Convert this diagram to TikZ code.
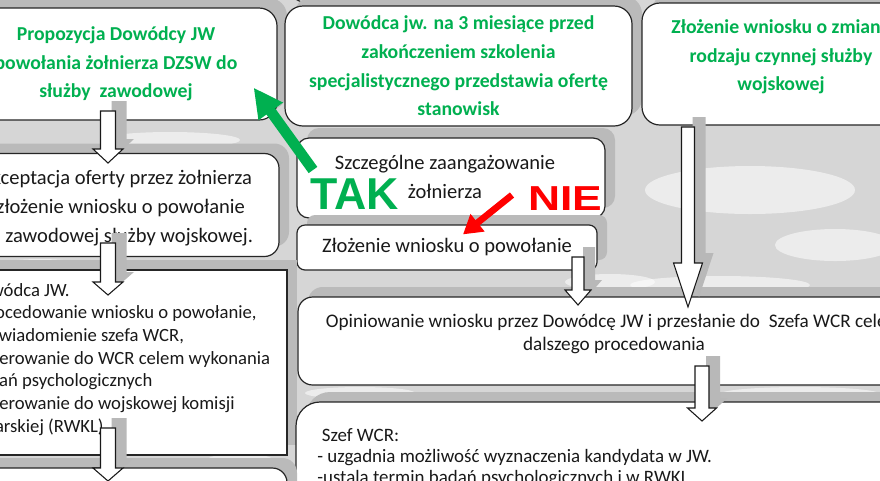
\documentclass[tikz,border=0pt]{standalone}
\usepackage{fontspec}
\setmainfont{Carlito}
\newfontfamily\heavysans{Liberation Sans}
\usepackage{tikz}
\usetikzlibrary{arrows.meta}
\usetikzlibrary{shadows,positioning}
\definecolor{zielony}{RGB}{0,176,80}
\definecolor{czerwony}{RGB}{255,0,0}
% outline of a vertical block arrow, drawn from the middle of its tail
\newcommand{\arrowpath}[4]{++(-#1,0) -- ++(0,#2) -- ++(#1-#3,0) -- ++(#3,#4) -- ++(#3,-#4) -- ++(#1-#3,0) -- ++(0,-#2) -- cycle}
\newcommand{\blockarrow}[5]{%
  \path[ArrowShadow] ([shift={(11,-10)}]#1) \arrowpath{#2}{#3}{#4}{#5};
  \path[BlockArrow] (#1) \arrowpath{#2}{#3}{#4}{#5};}

\begin{document}
\begin{tikzpicture}[
x=0.75pt,y=-0.75pt,
Box/.style={draw=black!85,line width=0.9pt,fill=white,rounded corners=#1,
  drop shadow={shadow xshift=7.5pt,shadow yshift=7.5pt,fill=black!27,opacity=1}},
Box/.default=11pt,
GreenText/.style={text=zielony,align=center,font=\fontsize{14.8}{21.5}\selectfont\bfseries},
BodyText/.style={text=black!90,align=center,font=\fontsize{15.4}{21.6}\selectfont},
ListText/.style={text=black!90,align=left,inner sep=0pt,font=\fontsize{14}{17}\selectfont},
BlockArrow/.style={draw=black!90,line width=0.8pt,fill=white},
ArrowShadow/.style={fill=black!28},
Camo/.style={white,opacity=.55}
]
\useasboundingbox (0,0) rectangle (880,480);
\clip (0,0) rectangle (880,480);

% background
\fill[black!16] (0,0) rectangle (880,480);
\foreach \cx/\cy/\rx/\ry in {750/190/105/24, 835/245/60/16, 720/285/90/9, 170/140/70/8,
  40/266/45/7, 360/393/55/6, 800/394/80/7, 610/282/45/8, 240/462/35/9, 560/140/40/5}
  \fill[Camo] (\cx,\cy) ellipse [x radius=\rx, y radius=\ry];

% top row
\node[Box=11pt, minimum width=242.25pt, minimum height=31.5pt] (gorny) at (451.5,-19) {};
\node[Box=11pt, minimum width=100.5pt, minimum height=34.5pt] (gornyP) at (933,-17) {};
\node[Box=13.5pt, minimum width=241.5pt, minimum height=84pt, GreenText] (propA) at (116,64)
  {Propozycja Dowódcy JW\\ powołania żołnierza DZSW do\\ służby~ zawodowej};
\node[Box=13.5pt, minimum width=260.25pt, minimum height=90pt, GreenText] (dowodca3m) at (458.5,66)
  {Dowódca jw. na 3 miesiące przed\\ zakończeniem szkolenia\\ specjalistycznego przedstawia ofertę\\ stanowisk};
\node[Box=13.5pt, minimum width=208.5pt, minimum height=91.5pt] (zmiana) at (781,64) {};
\node[GreenText] (zmianaT) at (781,57) {Złożenie wniosku o zmianę\\ rodzaju czynnej służby\\ wojskowej};

% middle row
\node[Box=11pt, minimum width=246pt, minimum height=77.25pt] (akcept) at (115,205) {};
\node[BodyText] (akceptT) at (116,208)
  {Akceptacja oferty przez żołnierza\\ i złożenie wniosku o powołanie\\ do zawodowej służby wojskowej.};
\node[Box=9pt, minimum width=231pt, minimum height=60pt] (zaang) at (451,178) {};
\node[BodyText] (zaangT) at (445,177) {Szczególne zaangażowanie\\ żołnierza};
\node[Box=6pt, minimum width=225pt, minimum height=33.75pt, BodyText] (wniosek) at (447,247.5)
  {Złożenie wniosku o powołanie};

% lower rows
\node[Box=0pt, minimum width=252.75pt, minimum height=138.75pt] (dowodcaJW) at (118.5,362.5) {};
\node[ListText, anchor=north west] (dowodcaJWT) at (-31,283)
  {Dowódca JW.\\ - procedowanie wniosku o powołanie,\\ - powiadomienie szefa WCR,\\
   - skierowanie do WCR celem wykonania\\ \hspace*{1pt}badań psychologicznych\\
   - skierowanie do wojskowej komisji\\ \hspace*{3pt}lekarskiej (RWKL)};
\node[Box=11pt, minimum width=489pt, minimum height=66pt] (opinia) at (624,341) {};
\node[BodyText, font=\fontsize{14.4}{17.3}\selectfont] (opiniaT) at (614,334)
  {Opiniowanie wniosku przez Dowódcę JW i przesłanie do~ Szefa WCR celem\\ dalszego procedowania};
\node[Box=18pt, minimum width=490.5pt, minimum height=118.5pt] (szefWCR) at (623,481) {};
\node[ListText, font=\fontsize{14.2}{15.8}\selectfont, anchor=north west] (szefWCRT) at (317,428)
  {\hspace*{3.5pt}Szef WCR:\\ - uzgadnia możliwość wyznaczenia kandydata w JW.\\
   -ustala termin badań psychologicznych i w RWKL};
\node[Box=11pt, minimum width=252.75pt, minimum height=69pt] (dolny) at (118.5,514) {};

% block arrows between the boxes
\coordinate (propA-akcept) at (108,111);
\coordinate (akcept-dowodcaJW) at (108,243);
\coordinate (dowodcaJW-dolny) at (108,428);
\coordinate (wniosek-opinia) at (578,257);
\coordinate (zmiana-opinia) at (688,127);
\coordinate (opinia-szefWCR) at (702,366);
\blockarrow{propA-akcept}{7.5}{38}{15}{14}
\blockarrow{akcept-dowodcaJW}{7.5}{39}{15}{13}
\blockarrow{dowodcaJW-dolny}{7.5}{40}{15}{13}
\blockarrow{wniosek-opinia}{6}{33}{13}{15}
\blockarrow{zmiana-opinia}{6.5}{136}{14.5}{44}
\blockarrow{opinia-szefWCR}{7}{42}{14.5}{13}

% decision
\coordinate (takStart) at (313,170);
\coordinate (nieStart) at (512,195);
\draw[zielony, line width=8pt, -{Triangle[length=22pt,width=21pt]}] (takStart) -- ([shift={(-24,-33)}]propA.south east);
\draw[czerwony, line width=5pt, -{Triangle[length=14pt,width=16pt]}] (nieStart) -- ([shift={(16,10)}]wniosek.north);
\node[text=zielony, font=\fontsize{33.5}{33.5}\heavysans\bfseries] (tak) at (355,194) {TAK};
\node[text=czerwony, font=\fontsize{26}{26}\heavysans\bfseries, xscale=1.28] (nie) at (565,199) {NIE};

\end{tikzpicture}
\end{document}
